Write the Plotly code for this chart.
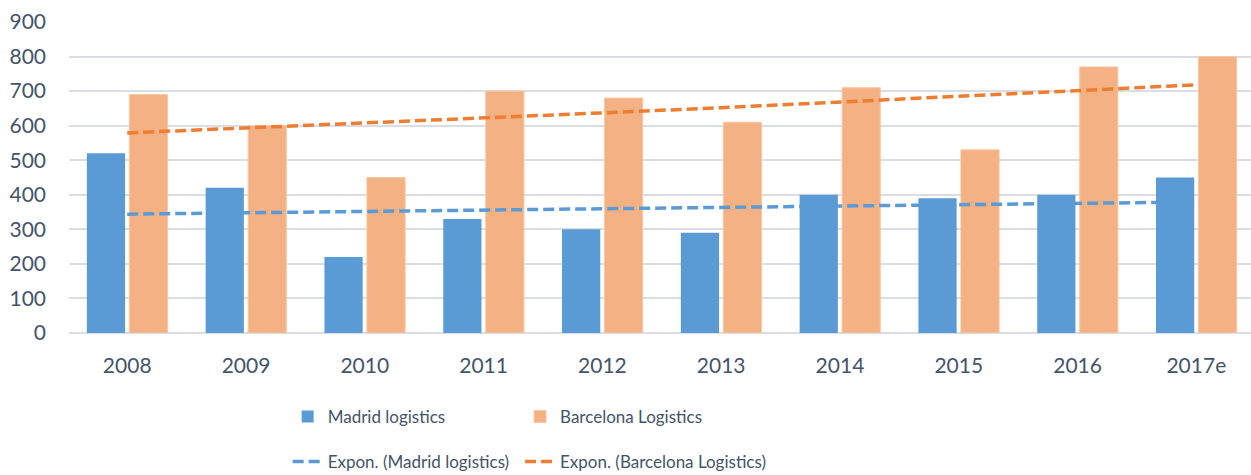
import plotly.graph_objects as go

years = ["2008", "2009", "2010", "2011", "2012", "2013", "2014", "2015", "2016", "2017e"]
madrid = [520, 420, 220, 330, 300, 290, 400, 390, 400, 450]
barcelona = [690, 600, 450, 700, 680, 610, 710, 530, 770, 800]
madrid_trend = [344, 348, 352, 355, 359, 363, 367, 371, 375, 379]
barcelona_trend = [579, 593, 607, 622, 637, 652, 668, 684, 701, 718]
y_ticks = [0, 100, 200, 300, 400, 500, 600, 700, 800, 900]

txt = "#44546a"
leg_font = dict(family="Lato, sans-serif", size=17, color=txt)
fig = go.Figure()
fig.add_trace(go.Bar(x=years, y=madrid, name="Madrid logistics", showlegend=True,
                     marker=dict(color="#5b9bd5", line=dict(width=0)), legend="legend"))
fig.add_trace(go.Bar(x=years, y=barcelona, name="Barcelona Logistics", showlegend=True,
                     marker=dict(color="#f4b183", line=dict(color="#f7c8a5", width=1)), legend="legend2"))
fig.add_trace(go.Scatter(x=years, y=madrid_trend, mode="lines", name="Expon. (Madrid logistics)",
                         showlegend=True,
                         line=dict(color="#5b9bd5", width=3.5, dash="11px,5px"), legend="legend3"))
fig.add_trace(go.Scatter(x=years, y=barcelona_trend, mode="lines", name="Expon. (Barcelona Logistics)",
                         showlegend=True,
                         line=dict(color="#ed7d31", width=3.5, dash="11px,5px"), legend="legend4"))

def leg(x, y):
    return dict(orientation="h", x=x, y=y, xanchor="left", yanchor="middle",
                font=leg_font, bgcolor="rgba(0,0,0,0)")

fig.update_layout(
    width=1251, height=475, showlegend=True,
    margin=dict(l=69, r=0, t=22, b=142, autoexpand=False),
    paper_bgcolor="white", plot_bgcolor="white",
    barmode="group", bargap=0.285, bargroupgap=0.1,
    font=dict(family="Lato, Liberation Sans, sans-serif", size=21, color=txt),
    xaxis=dict(type="category", range=[-0.49, 9.46], showgrid=False, showline=False,
               automargin=False, ticks="", ticklabelstandoff=18, tickfont=dict(size=21, color=txt)),
    yaxis=dict(range=[0, 900], tickvals=y_ticks, showgrid=True, gridcolor="#dadee4", gridwidth=1.5,
               automargin=False, zeroline=True, zerolinecolor="#dadee4", zerolinewidth=1.5,
               ticks="", ticklabelstandoff=22, tickfont=dict(size=21, color=txt)),
    legend=leg(0.185, -0.27),
    legend2=leg(0.3816, -0.27),
    legend3=leg(0.185, -0.415),
    legend4=leg(0.3816, -0.415),
)
fig.write_html("out.html", config={"displayModeBar": False},
               post_script="document.body.style.margin='0';document.body.style.overflow='hidden';")
